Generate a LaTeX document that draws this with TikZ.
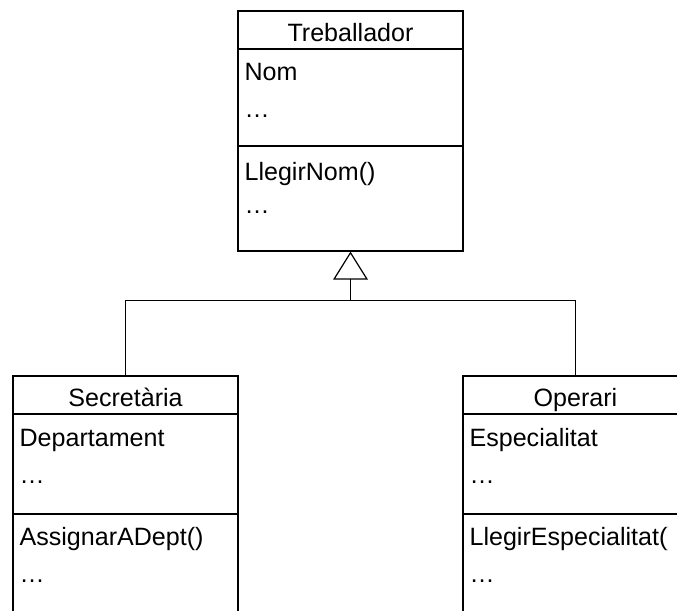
\documentclass[tikz,border=0pt]{standalone}
\usepackage{fontspec}
\setmainfont{Liberation Sans}
\usetikzlibrary{arrows.meta,fit}
\begin{document}
\begin{tikzpicture}[x=0.75pt,y=-0.75pt,
  line width=0.9pt,
  classbox/.style={draw, inner sep=0pt, line width=0.9pt},
  umltext/.style={inner sep=0pt, font=\fontsize{18.8}{22}\selectfont},
  member/.style={umltext, anchor=base west},
  classname/.style={umltext, anchor=base},
  inherit/.style={-{Triangle[open, length=21pt, width=26pt, line width=0.9pt]}}]
\useasboundingbox (0,0) rectangle (677,610);
\clip (0,0) rectangle (677,610);

% superclass
\node[classbox, fit={(238,11) (463,251)}] (trab) {};
\draw (238,49) -- (463,49);
\draw (238,146) -- (463,146);
\node[classname] (trabname) at (350.5,42) {Treballador};
\node[member] (trabattr) at (244,80) {Nom};
\node[member] (trabattrmore) at (244,117) {\ldots};
\node[member] (trabop) at (244,180) {LlegirNom()};
\node[member] (trabopmore) at (244,213) {\ldots};

% subclass Secretària
\node[classbox, fit={(13,376) (238,660)}] (sec) {};
\draw (13,414) -- (238,414);
\draw (13,514) -- (238,514);
\node[classname] (secname) at (125.5,406) {Secretària};
\node[member] (secattr) at (19,446) {Departament};
\node[member] (secattrmore) at (19,483) {\ldots};
\node[member] (secop) at (19,545) {AssignarADept()};
\node[member] (secopmore) at (19,582) {\ldots};

% subclass Operari
\node[classbox, fit={(463,376) (688,660)}] (op) {};
\draw (463,414) -- (688,414);
\draw (463,514) -- (688,514);
\node[classname] (opname) at (575.5,406) {Operari};
\node[member] (opattr) at (469,446) {Especialitat};
\node[member] (opattrmore) at (469,483) {\ldots};
\begin{scope}
  % the operation text runs past the visible part of the box
  \clip (463,520) rectangle (667,560);
  \node[member] (opop) at (469,545) {LlegirEspecialitat()};
\end{scope}
\node[member] (opopmore) at (469,582) {\ldots};

% generalization
\coordinate (jn) at (350.5,300.5);
\draw (sec.north) |- (jn) -| (op.north);
\draw[inherit] (jn) -- (trab.south);
\end{tikzpicture}
\end{document}
